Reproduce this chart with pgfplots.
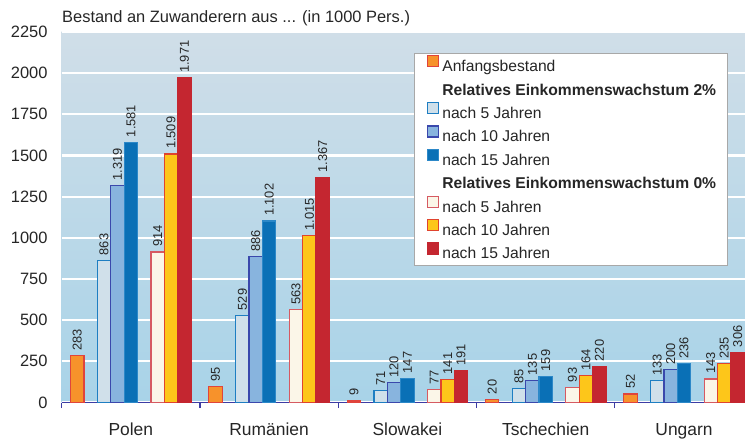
\documentclass[border=0pt]{standalone}
\usepackage{pgfplots}
\pgfplotsset{compat=1.18}
\usepackage{pgfplotstable}
\usepackage{fontspec}
\setmainfont{Liberation Sans}
\definecolor{bgtop}{HTML}{D0DEE8}
\definecolor{bgbot}{HTML}{A8D3E8}
\definecolor{axblue}{HTML}{3C3CA4}
\definecolor{anfF}{HTML}{F7922B}
\definecolor{anfD}{HTML}{E0443C}
\definecolor{a5F}{HTML}{D0E0EA}
\definecolor{a5D}{HTML}{1E7EC2}
\definecolor{a10F}{HTML}{88B4DE}
\definecolor{a10D}{HTML}{3A48AC}
\definecolor{a15F}{HTML}{0A70B6}
\definecolor{a15D}{HTML}{2C88C8}
\definecolor{b5F}{HTML}{FBF6E8}
\definecolor{b5D}{HTML}{D65A62}
\definecolor{b10F}{HTML}{FDC61A}
\definecolor{b10D}{HTML}{E0442E}
\definecolor{b15F}{HTML}{C42630}
\definecolor{b15D}{HTML}{C42630}
\definecolor{txt}{HTML}{262626}
\definecolor{leggray}{HTML}{A8A8A8}

\pgfplotstableread{
grp anf a5 a10 a15 b5 b10 b15
0 283 863 1319 1581 914 1509 1971
1 95 529 886 1102 563 1015 1367
2 9 71 120 147 77 141 191
3 20 85 135 159 93 164 220
4 52 133 200 236 143 235 306
}\data

\begin{document}
\begin{tikzpicture}
\begin{axis}[
  scale only axis, width=683.3bp, height=370.5bp,
  xmin=-0.5, xmax=4.441, ymin=0, ymax=2250,
  ybar, bar width=0.0969, bar shift=0pt,
  axis x line*=bottom, axis y line*=left,
  x axis line style={draw=axblue, line width=1.3bp},
  y axis line style={draw=none},
  xtick={0,1,2,3,4},
  xticklabels={Polen,Rumänien,Slowakei,Tschechien,Ungarn},
  minor xtick={-0.5,0.5,1.5,2.5,3.5},
  ytick={0,250,...,2250},
  scaled y ticks=false,
  major tick length=0pt, minor tick length=5.5bp, tick align=outside,
  every minor tick/.append style={draw=axblue, line width=1.2bp},
  ymajorgrids, major grid style={draw=white, line width=2.3bp},
  axis background/.style={shade, top color=bgtop, bottom color=bgbot},
  yticklabel style={font=\fontsize{16.5}{19}\selectfont, text=txt, inner sep=0pt, xshift=-14bp},
  xticklabel style={font=\fontsize{17.5}{20}\selectfont, text=txt, anchor=base, inner sep=0pt, yshift=-32.5bp},
  nodes near coords={\textnormal{\fontsize{12.9}{14}\selectfont\pgfmathprintnumber[1000 sep={.},assume math mode=true]{\pgfplotspointmeta}}},
  every node near coord/.append style={rotate=90, anchor=west, text=txt, inner xsep=4.5bp, inner ysep=0pt, font=\fontsize{12.9}{14}\selectfont},
  legend style={at={(0,1)}, anchor=north west, xshift=352.3bp, yshift=-21.3bp,
    draw=leggray, line width=1bp, fill=white, inner xsep=8bp, inner ysep=0.8bp,
    font=\fontsize{15.7}{18}\selectfont, text=txt,
    nodes={inner xsep=3.5bp, inner ysep=4.2bp, text height=13bp, text depth=2bp},
    row sep=0pt},
  legend cell align=left,
  legend image code/.code={\path (0bp,0bp); \draw[#1, line width=1.1bp] (4.7bp,-0.5bp) rectangle (15.2bp,10.5bp);},
  /pgf/number format/1000 sep={},
  /pgf/number format/assume math mode=true,
]
\addplot[fill=anfF, draw=anfD, line width=1.2bp] table[x expr=\thisrow{grp}-0.3876, y=anf] {\data};
\addlegendentry{Anfangsbestand}
\addlegendimage{empty legend}
\addlegendentry{\textbf{Relatives Einkommenswachstum 2\%}}
\addplot[fill=a5F, draw=a5D, line width=1.2bp] table[x expr=\thisrow{grp}-0.1938, y=a5] {\data};
\addlegendentry{nach 5 Jahren}
\addplot[fill=a10F, draw=a10D, line width=1.2bp] table[x expr=\thisrow{grp}-0.0969, y=a10] {\data};
\addlegendentry{nach 10 Jahren}
\addplot[fill=a15F, draw=a15D, line width=1.2bp] table[x expr=\thisrow{grp}, y=a15] {\data};
\addlegendentry{nach 15 Jahren}
\addlegendimage{empty legend}
\addlegendentry{\textbf{Relatives Einkommenswachstum 0\%}}
\addplot[fill=b5F, draw=b5D, line width=1.2bp] table[x expr=\thisrow{grp}+0.1938, y=b5] {\data};
\addlegendentry{nach 5 Jahren}
\addplot[fill=b10F, draw=b10D, line width=1.2bp] table[x expr=\thisrow{grp}+0.2907, y=b10] {\data};
\addlegendentry{nach 10 Jahren}
\addplot[fill=b15F, draw=b15D, line width=1.2bp] table[x expr=\thisrow{grp}+0.3876, y=b15] {\data};
\addlegendentry{nach 15 Jahren}
\end{axis}
\node[anchor=base west, inner sep=0pt, font=\fontsize{16.5}{19}\selectfont, text=txt] at ([xshift=0.3bp,yshift=9.3bp]current axis.north west) {Bestand an Zuwanderern aus ... (in 1000 Pers.)};
\pgfresetboundingbox
\path ([xshift=-61.7bp,yshift=-38.5bp]current axis.south west) rectangle ([yshift=32bp]current axis.north east);
\end{tikzpicture}
\end{document}
